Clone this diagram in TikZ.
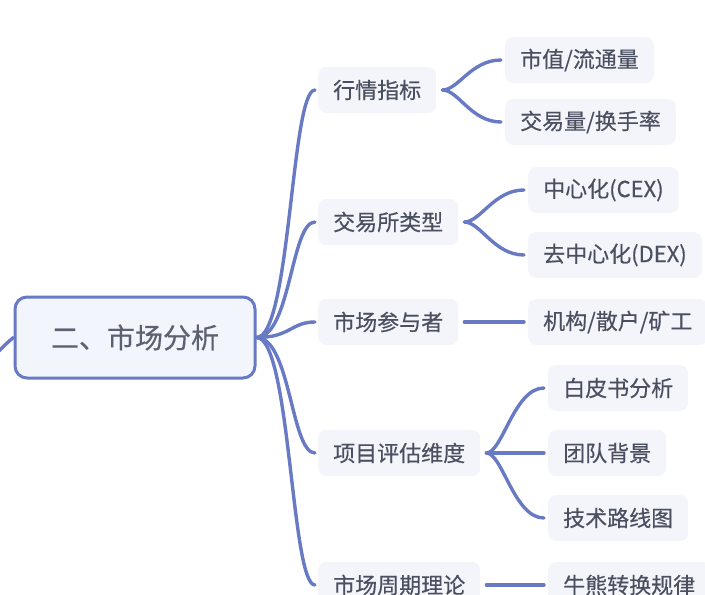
\documentclass[tikz,border=0pt]{standalone}
\usepackage{fontspec}
\usepackage{tikz}
\newfontfamily\cjk[FakeBold=0.4]{Noto Sans CJK SC}
\definecolor{MapBlue}{RGB}{104,122,196}
\definecolor{RootFill}{RGB}{243,245,252}
\definecolor{TopicFill}{RGB}{244,245,250}
\definecolor{InkGray}{RGB}{74,80,96}

\begin{document}
\begin{tikzpicture}[
    x=1pt, y=-1pt,
    root/.style={rectangle, draw=MapBlue, line width=3pt, rounded corners=12pt, fill=RootFill, minimum width=240pt, minimum height=81pt, text=InkGray!90, font=\cjk\fontsize{28}{28}\selectfont},
    topic/.style={rectangle, rounded corners=8pt, fill=TopicFill, anchor=west, inner xsep=15pt, minimum height=46pt, text=InkGray, font=\cjk\fontsize{22}{22}\selectfont},
    leaf/.style={topic},
    link/.style={draw=MapBlue, line width=3.4pt, line cap=round},
]
\useasboundingbox (0,0) rectangle (705,595);
\clip (0,0) rectangle (705,595);

\node[root] (root) at (135,337.5) {二、市场分析};
\coordinate (in) at (-2,352);

% main topics
\node[topic] (t1) at (318,90) {行情指标};
\node[topic] (t2) at (318,222) {交易所类型};
\node[topic] (t3) at (318,322) {市场参与者};
\node[topic] (t4) at (318,453) {项目评估维度};
\node[topic] (t5) at (318,585) {市场周期理论};

% sub topics
\node[leaf] (l1) at (505,60) {市值/流通量};
\node[leaf] (l2) at (505,122) {交易量/换手率};
\node[leaf] (l3) at (528,190) {中心化(CEX)};
\node[leaf] (l4) at (528,255) {去中心化(DEX)};
\node[leaf] (l5) at (528,322) {机构/散户/矿工};
\node[leaf] (l6) at (548,388) {白皮书分析};
\node[leaf] (l7) at (548,453) {团队背景};
\node[leaf] (l8) at (548,518) {技术路线图};
\node[leaf] (l9) at (548,585) {牛熊转换规律};

% branches
\draw[link] (in) .. controls (8,342) .. (root.west);
\foreach \t in {t1,t2,t3,t4,t5}{
  \draw[link] (root.east) .. controls +(34,0) and +(-24,0) .. ([xshift=-3pt]\t.west);
}
\foreach \a/\b in {t1/l1,t1/l2,t2/l3,t2/l4,t3/l5,t4/l6,t4/l7,t4/l8,t5/l9}{
  \draw[link] ([xshift=6pt]\a.east) .. controls +(16,0) and +(-30,0) .. ([xshift=-4pt]\b.west);
}
\end{tikzpicture}
\end{document}
